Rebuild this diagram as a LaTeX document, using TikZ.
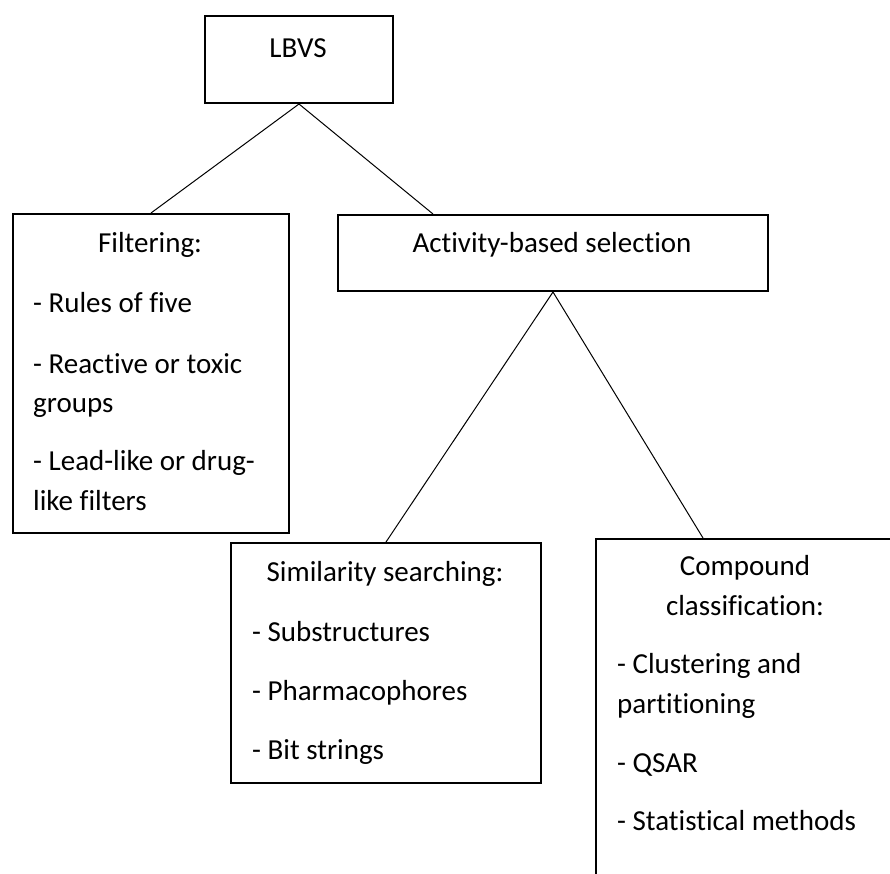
\documentclass[tikz,border=0pt]{standalone}
\usepackage{fontspec}
\setmainfont{Carlito}[Ligatures=NoCommon]
\begin{document}
\begin{tikzpicture}[x=1pt,y=-1pt,
  box/.style={draw,line width=2pt,inner sep=0pt,anchor=north west},
  conn/.style={line width=1pt},
  txt/.style={anchor=base,inner sep=0pt,font=\fontsize{29}{40}\selectfont},
  item/.style={anchor=base west,inner sep=0pt,font=\fontsize{29}{40}\selectfont}]
\useasboundingbox (0,0) rectangle (890,873);
\clip (0,0) rectangle (890,873);
% boxes
\node[box,minimum width=188pt,minimum height=87pt] (lbvs) at (204,15) {};
\node[box,minimum width=276pt,minimum height=319pt] (filt) at (12,213) {};
\node[box,minimum width=430pt,minimum height=76pt] (act) at (337,214) {};
\node[box,minimum width=310pt,minimum height=240pt] (sim) at (230,542) {};
\node[box,minimum width=300pt,minimum height=400pt] (comp) at (595,538) {};
% texts
\node[txt] (lbvst) at (298,57) {LBVS};
\node[txt] (filtt) at (150,252) {Filtering:};
\node[item] (f1) at (33,312) {- Rules of five};
\node[item] (f2) at (33,373) {- Reactive or toxic};
\node[item] (f3) at (33,412) {groups};
\node[item] (f4) at (33,470) {- Lead-like or drug-};
\node[item] (f5) at (33,510) {like filters};
\node[txt] (actt) at (552,252) {Activity-based selection};
\node[txt] (simt) at (385,581) {Similarity searching:};
\node[item] (s1) at (252,641) {- Substructures};
\node[item] (s2) at (252,700) {- Pharmacophores};
\node[item] (s3) at (252,759) {- Bit strings};
\node[txt] (compt1) at (745,575) {Compound};
\node[txt] (compt2) at (745,615) {classification:};
\node[item] (c1) at (617,673) {- Clustering and};
\node[item] (c2) at (617,713) {partitioning};
\node[item] (c3) at (617,772) {- QSAR};
\node[item] (c4) at (617,830) {- Statistical methods};
% connector end points
\coordinate (actin) at (433,214);
\coordinate (compin) at (703,538);
% connectors
\draw[conn] (lbvs.south) -- (filt.north);
\draw[conn] (lbvs.south) -- (actin);
\draw[conn] (act.south) -- (sim.north);
\draw[conn] (act.south) -- (compin);
\end{tikzpicture}
\end{document}
